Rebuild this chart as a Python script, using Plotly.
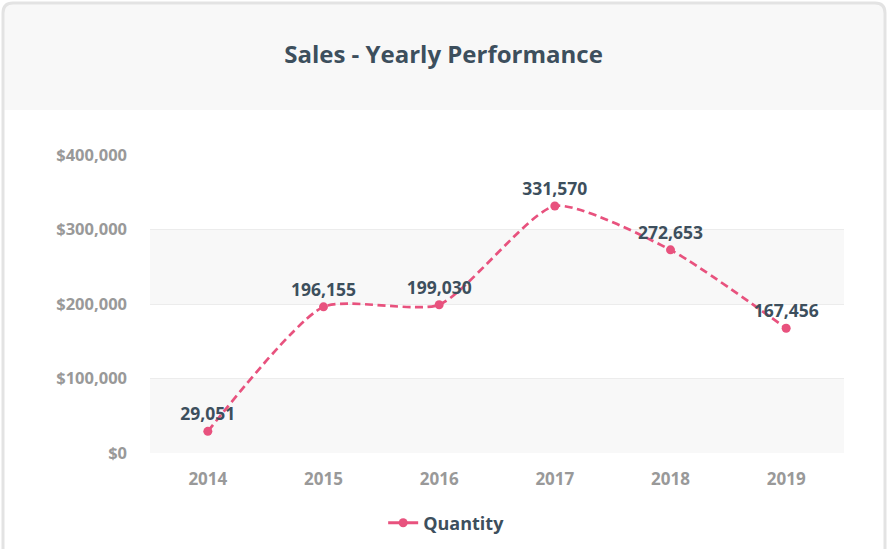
import plotly.graph_objects as go

years = ["2014", "2015", "2016", "2017", "2018", "2019"]
quantity = [29051, 196155, 199030, 331570, 272653, 167456]
y_ticks = [0, 100000, 200000, 300000, 400000]
y_tick_labels = ["$0", "$100,000", "$200,000", "$300,000", "$400,000"]
series_name = "Quantity"
title_text = "Sales - Yearly Performance"

PINK = "#e8527e"
DARK = "#3d4f5d"
GREY = "#999999"
FONT = "Open Sans"

fig = go.Figure()
fig.add_trace(go.Scatter(
    x=years, y=quantity, name=series_name, showlegend=False,
    mode="lines+markers+text",
    line=dict(color=PINK, width=2.7, dash="8px,4.5px", shape="spline", smoothing=0.6),
    marker=dict(color=PINK, size=9),
    text=[f"{v:,}" for v in quantity],
    textposition="top center",
    textfont=dict(family=FONT, size=17.5, color=DARK, weight=700),
    cliponaxis=False,
))
# legend entry (solid line symbol as in the reference)
fig.add_trace(go.Scatter(
    x=[None], y=[None], name=series_name, mode="lines+markers",
    line=dict(color=PINK, width=3), marker=dict(color=PINK, size=9),
))

def px_x(px):
    return (px - 150) / 694.0

def px_y(py):
    return (453 - py) / 298.0

shapes = []
L, R, T, B = px_x(3), px_x(885), px_y(3), px_y(110)
rx, ry = 10 / 694.0, 10 / 298.0
header_path = (f"M {L},{B} L {L},{T-ry} Q {L},{T} {L+rx},{T} L {R-rx},{T} "
               f"Q {R},{T} {R},{T-ry} L {R},{B} Z")
shapes.append(dict(type="path", xref="paper", yref="paper", path=header_path,
                   fillcolor="#f8f8f8", line=dict(width=0), layer="below"))
Bc = px_y(600)
card_path = (f"M {L},{Bc} L {L},{T-ry} Q {L},{T} {L+rx},{T} L {R-rx},{T} "
             f"Q {R},{T} {R},{T-ry} L {R},{Bc}")
shapes.append(dict(type="path", xref="paper", yref="paper", path=card_path,
                   line=dict(color="#e3e3e3", width=3), layer="above"))
for i in range(0, len(y_ticks) - 1, 2):
    shapes.append(dict(type="rect", xref="paper", yref="y", x0=0, x1=1,
                       y0=y_ticks[i], y1=y_ticks[i + 1],
                       fillcolor="#f8f8f8", line=dict(width=0), layer="below"))

fig.update_layout(
    width=887, height=549,
    margin=dict(l=150, r=43, t=155, b=96),
    paper_bgcolor="white", plot_bgcolor="white",
    shapes=shapes,
    title=dict(text=title_text, x=0.5, xref="container", xanchor="center",
               y=1 - 55 / 549, yref="container", yanchor="middle",
               font=dict(family=FONT, size=24, color=DARK, weight=700)),
    showlegend=True,
    legend=dict(orientation="h", x=0.503, xref="container", xanchor="center",
                y=1 - 523 / 549, yref="container", yanchor="middle",
                font=dict(family=FONT, size=18, color=DARK, weight=700),
                itemwidth=30),
    xaxis=dict(type="category", range=[-0.5, 5.5], showgrid=False, zeroline=False,
               showline=False, ticks="", ticklabelstandoff=14,
               tickfont=dict(family=FONT, size=17, color=GREY, weight=700)),
    yaxis=dict(range=[0, 400000], tickvals=y_ticks, ticktext=y_tick_labels,
               showgrid=True, gridcolor="#ececec", gridwidth=1, zeroline=False,
               showline=False, ticks="", ticklabelstandoff=22,
               tickfont=dict(family=FONT, size=16.5, color=GREY, weight=700)),
)

fig.write_html("out.html")
